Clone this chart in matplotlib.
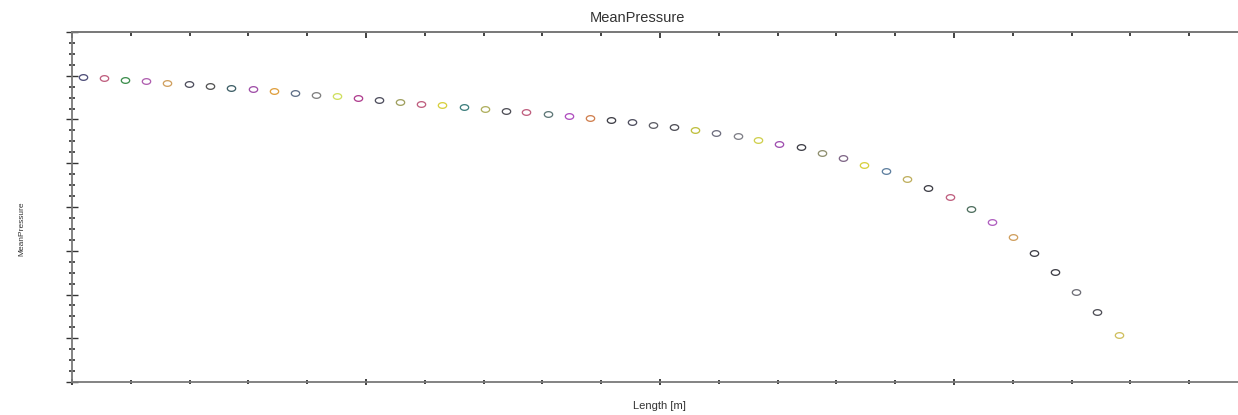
import matplotlib
matplotlib.use("Agg")
import matplotlib.pyplot as plt
import numpy as np
from matplotlib.path import Path
from matplotlib.ticker import MultipleLocator, NullFormatter

# ---- data (axis units arbitrary, no tick labels shown) ----
length_m = [0.037, 0.109, 0.180, 0.252, 0.323, 0.398, 0.469, 0.541, 0.616, 0.687,
            0.759, 0.830, 0.901, 0.973, 1.044, 1.116, 1.187, 1.259, 1.333, 1.405,
            1.476, 1.544, 1.619, 1.690, 1.762, 1.833, 1.905, 1.976, 2.048, 2.119,
            2.190, 2.265, 2.333, 2.405, 2.480, 2.551, 2.622, 2.694, 2.769, 2.840,
            2.912, 2.986, 3.058, 3.129, 3.201, 3.272, 3.344, 3.415, 3.486, 3.561]

mean_pressure = [6.971, 6.949, 6.903, 6.880, 6.834, 6.811, 6.766, 6.720, 6.697, 6.651,
                 6.606, 6.560, 6.537, 6.491, 6.446, 6.400, 6.354, 6.331, 6.286, 6.240,
                 6.194, 6.171, 6.126, 6.080, 6.034, 5.989, 5.943, 5.874, 5.829, 5.760,
                 5.691, 5.623, 5.531, 5.440, 5.371, 5.234, 5.120, 4.960, 4.823, 4.640,
                 4.434, 4.229, 3.954, 3.657, 3.314, 2.949, 2.514, 2.057, 1.600, 1.074]

point_colors = ["#50507a", "#c06080", "#3f8f4f", "#b060b0", "#d0a060",
                "#50505f", "#555555", "#406068", "#a050a8", "#e0a040",
                "#607088", "#808080", "#d0e060", "#b04090", "#50505f",
                "#a0a060", "#c06080", "#d8d040", "#40807f", "#b0b060",
                "#505058", "#c06080", "#607878", "#b050c0", "#d08050",
                "#404048", "#505060", "#606068", "#505058", "#c0c040",
                "#707080", "#808088", "#d0d050", "#a050b0", "#404048",
                "#909070", "#806888", "#d8d040", "#6080a0", "#c0b060",
                "#404048", "#c06080", "#507060", "#b060c0", "#d0a060",
                "#404048", "#404048", "#707078", "#505058", "#d0c060"]

title = "MeanPressure"
xlabel = "Length [m]"
ylabel = "MeanPressure"

# ---- figure ----
W, H = 1238, 415
fig = plt.figure(figsize=(W / 100, H / 100), dpi=100)
ax = fig.add_axes([72 / W, (H - 382) / H, (W - 72) / W, 350 / H])

# elliptical open marker
t = np.linspace(0, 2 * np.pi, 60)
ell = Path(np.column_stack([np.cos(t), 0.68 * np.sin(t)]))

for x, y, c in zip(length_m, mean_pressure, point_colors):
    ax.plot([x], [y], linestyle="none", marker=ell, markersize=6.0,
            markerfacecolor="none", markeredgecolor=c, markeredgewidth=0.95)

ax.set_xlim(0, (W - 72) / 294)
ax.set_ylim(0, 8)

ax.xaxis.set_major_locator(MultipleLocator(1.0))
ax.xaxis.set_minor_locator(MultipleLocator(0.2))
ax.yaxis.set_major_locator(MultipleLocator(1.0))
ax.yaxis.set_minor_locator(MultipleLocator(0.25))
ax.xaxis.set_major_formatter(NullFormatter())
ax.yaxis.set_major_formatter(NullFormatter())

ax.tick_params(axis="x", which="major", direction="inout", length=5, width=1.2,
               color="#222222", top=False, bottom=True)
ax.tick_params(axis="x", which="minor", direction="inout", length=3, width=1.2,
               color="#222222", top=False, bottom=True)
ax.tick_params(axis="y", which="major", direction="inout", length=9, width=1.0,
               color="#333333", left=True, right=False)
ax.tick_params(axis="y", which="minor", direction="inout", length=4, width=1.2,
               color="#333333", left=True, right=False)

# top axis: inward ticks only
sec = ax.secondary_xaxis("top")
sec.xaxis.set_major_locator(MultipleLocator(1.0))
sec.xaxis.set_minor_locator(MultipleLocator(0.2))
sec.xaxis.set_major_formatter(NullFormatter())
sec.tick_params(axis="x", which="major", direction="in", length=4, width=1.2, color="#222222")
sec.tick_params(axis="x", which="minor", direction="in", length=3, width=1.2, color="#222222")
sec.spines["top"].set_color("#7a7a7a")
sec.spines["top"].set_linewidth(1.3)

for side in ["left", "bottom", "top"]:
    ax.spines[side].set_color("#7a7a7a")
    ax.spines[side].set_linewidth(1.3)
ax.spines["right"].set_visible(False)

txt_color = "#333333"
fig.text(637 / W, (H - 18) / H, title, ha="center", va="center",
         fontsize=10.5, family="Liberation Sans", color=txt_color)
fig.text(659 / W, (H - 406) / H, xlabel, ha="center", va="center",
         fontsize=8, family="Liberation Sans", color=txt_color)
fig.text(22 / W, (H - 229) / H, ylabel, ha="center", va="center", rotation=90,
         fontsize=6, family="Liberation Sans", color=txt_color)

fig.savefig("out.png", dpi=100)
